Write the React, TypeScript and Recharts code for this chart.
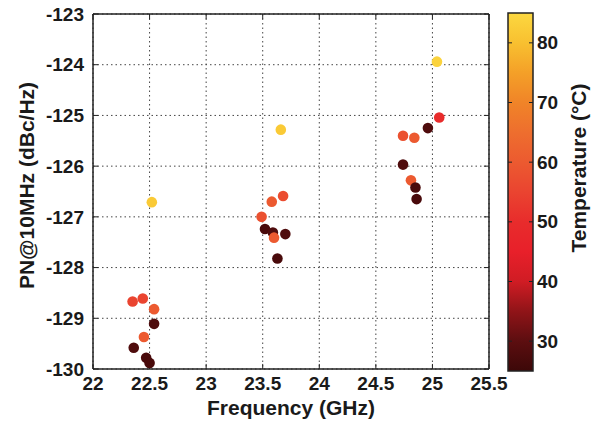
import React from "react";
import {
  ScatterChart,
  Scatter,
  XAxis,
  YAxis,
  CartesianGrid,
  ReferenceLine,
  Label,
} from "recharts";

const frequencyGHz = [
  22.35, 22.44, 22.54, 22.54, 22.45, 22.36, 22.47, 22.5, 22.52,
  23.68, 23.58, 23.49, 23.52, 23.59, 23.6, 23.7, 23.63, 23.66,
  25.04, 25.06, 24.96, 24.74, 24.84, 24.74, 24.81, 24.85, 24.86,
];
const phaseNoise = [
  -128.67, -128.61, -128.82, -129.11, -129.37, -129.58, -129.78, -129.88, -126.71,
  -126.59, -126.7, -127.0, -127.24, -127.31, -127.41, -127.34, -127.82, -125.28,
  -123.94, -125.04, -125.25, -125.4, -125.44, -125.97, -126.28, -126.42, -126.65,
];
const temperatureC = [
  55, 55, 60, 28, 60, 28, 27, 27, 82,
  57, 60, 58, 27, 28, 60, 28, 27, 82,
  84, 50, 28, 58, 60, 28, 60, 27, 27,
];

const xTicks = [22, 22.5, 23, 23.5, 24, 24.5, 25, 25.5];
const yTicks = [-130, -129, -128, -127, -126, -125, -124, -123];
const cbTicks = [30, 40, 50, 60, 70, 80];

const tMin = 25;
const tMax = 85;

// colormap stops (temperature -> colour)
const cmap: [number, string][] = [
  [25, "#3c0808"],
  [30, "#5c0e10"],
  [35, "#901418"],
  [40, "#d01c24"],
  [45, "#e8202a"],
  [50, "#e82c2c"],
  [55, "#ea4430"],
  [60, "#ec5a30"],
  [65, "#ee6e2e"],
  [70, "#f08428"],
  [75, "#f4a028"],
  [80, "#f8c030"],
  [85, "#fcd840"],
];

const hex = (s: string) => [1, 3, 5].map((i) => parseInt(s.slice(i, i + 2), 16));

const tempColor = (t: number) => {
  if (t <= cmap[0][0]) return cmap[0][1];
  for (let i = 1; i < cmap.length; i++) {
    if (t <= cmap[i][0]) {
      const [t0, c0] = cmap[i - 1];
      const [t1, c1] = cmap[i];
      const f = (t - t0) / (t1 - t0);
      const a = hex(c0);
      const b = hex(c1);
      const m = a.map((v, k) => Math.round(v + (b[k] - v) * f));
      return `rgb(${m[0]},${m[1]},${m[2]})`;
    }
  }
  return cmap[cmap.length - 1][1];
};

const data = frequencyGHz.map((f, i) => ({
  f,
  pn: phaseNoise[i],
  temp: temperatureC[i],
}));

const FONT = "'Liberation Sans', Arial, Helvetica, sans-serif";
const tickStyle = { fontSize: 19, fontWeight: "bold", fill: "#1a1a1a", fontFamily: FONT };

const Dot = (props: any) => {
  const { cx, cy, payload } = props;
  return <circle cx={cx} cy={cy} r={5.3} fill={tempColor(payload.temp)} />;
};

// colorbar geometry
const cb = { x: 508, y: 13, w: 25, h: 358 };
const cbY = (t: number) => cb.y + cb.h - ((t - tMin) / (tMax - tMin)) * cb.h;

const ColorBar = () => (
  <svg
    width={600}
    height={426}
    style={{ position: "absolute", left: 0, top: 0, pointerEvents: "none" }}
  >
    <defs>
      <linearGradient id="cbGrad" x1="0" y1="1" x2="0" y2="0">
        {cmap.map(([t, c]) => (
          <stop key={t} offset={(t - tMin) / (tMax - tMin)} stopColor={c} />
        ))}
      </linearGradient>
    </defs>
    <rect x={cb.x} y={cb.y} width={cb.w} height={cb.h} fill="url(#cbGrad)" stroke="#222" strokeWidth={1.5} />
    {cbTicks.map((t) => (
      <g key={t}>
        <line x1={cb.x} x2={cb.x + 4} y1={cbY(t)} y2={cbY(t)} stroke="#222" />
        <line x1={cb.x + cb.w - 4} x2={cb.x + cb.w} y1={cbY(t)} y2={cbY(t)} stroke="#222" />
        <text
          x={cb.x + cb.w + 4}
          y={cbY(t)}
          dominantBaseline="central"
          style={tickStyle}
        >
          {t}
        </text>
      </g>
    ))}
    <text
      transform={`translate(578,168) rotate(-90)`}
      textAnchor="middle"
      dominantBaseline="central"
      style={{ fontSize: 21, fontWeight: "bold", fill: "#1a1a1a", fontFamily: FONT }}
    >
      Temperature (°C)
    </text>
  </svg>
);

const App = () => {
  const tx = 0.045;
  const ty = 0.1;
  return (
    <div style={{ position: "absolute", left: 0, top: 0, width: 600, height: 426, background: "#fff" }}>
      <ScatterChart
        width={600}
        height={426}
        margin={{ top: 14, right: 111, bottom: 0, left: 0 }}
      >
        <CartesianGrid stroke="#444" strokeDasharray="1.5 3" />
        <XAxis
          dataKey="f"
          type="number"
          domain={[22, 25.5]}
          ticks={xTicks}
          interval={0}
          height={57}
          tickSize={0}
          tickMargin={8}
          tick={tickStyle}
          axisLine={{ stroke: "#222", strokeWidth: 1.5 }}
          tickLine={false}
        >
          <Label
            content={(p: any) => {
              const vb = p.viewBox;
              return (
                <text
                  x={vb.x + vb.width / 2}
                  y={vb.y + 46}
                  textAnchor="middle"
                  style={{ fontSize: 21, fontWeight: "bold", fill: "#1a1a1a", fontFamily: FONT }}
                >
                  Frequency (GHz)
                </text>
              );
            }}
          />
        </XAxis>
        <YAxis
          dataKey="pn"
          type="number"
          domain={[-130, -123]}
          ticks={yTicks}
          interval={0}
          width={93}
          tickSize={0}
          tickMargin={9}
          tick={tickStyle}
          axisLine={{ stroke: "#222", strokeWidth: 1.5 }}
          tickLine={false}
        >
          <Label
            content={(p: any) => {
              const vb = p.viewBox;
              const cx = vb.x + 26;
              const cy = vb.y + vb.height / 2 - 6;
              return (
                <text
                  transform={`translate(${cx},${cy}) rotate(-90)`}
                  textAnchor="middle"
                  dominantBaseline="central"
                  style={{ fontSize: 21, fontWeight: "bold", fill: "#1a1a1a", fontFamily: FONT }}
                >
                  PN@10MHz (dBc/Hz)
                </text>
              );
            }}
          />
        </YAxis>
        {/* box: top and right edges */}
        <ReferenceLine y={-123} stroke="#222" strokeWidth={1.5} />
        <ReferenceLine x={25.5} stroke="#222" strokeWidth={1.5} />
        {/* inward ticks on all four sides */}
        {xTicks.map((t) => (
          <ReferenceLine key={"xb" + t} segment={[{ x: t, y: -130 }, { x: t, y: -130 + ty }]} stroke="#222" />
        ))}
        {xTicks.map((t) => (
          <ReferenceLine key={"xt" + t} segment={[{ x: t, y: -123 }, { x: t, y: -123 - ty }]} stroke="#222" />
        ))}
        {yTicks.map((t) => (
          <ReferenceLine key={"yl" + t} segment={[{ x: 22, y: t }, { x: 22 + tx, y: t }]} stroke="#222" />
        ))}
        {yTicks.map((t) => (
          <ReferenceLine key={"yr" + t} segment={[{ x: 25.5, y: t }, { x: 25.5 - tx, y: t }]} stroke="#222" />
        ))}
        <Scatter data={data} shape={Dot} isAnimationActive={false} />
      </ScatterChart>
      <ColorBar />
    </div>
  );
};

export default App;
